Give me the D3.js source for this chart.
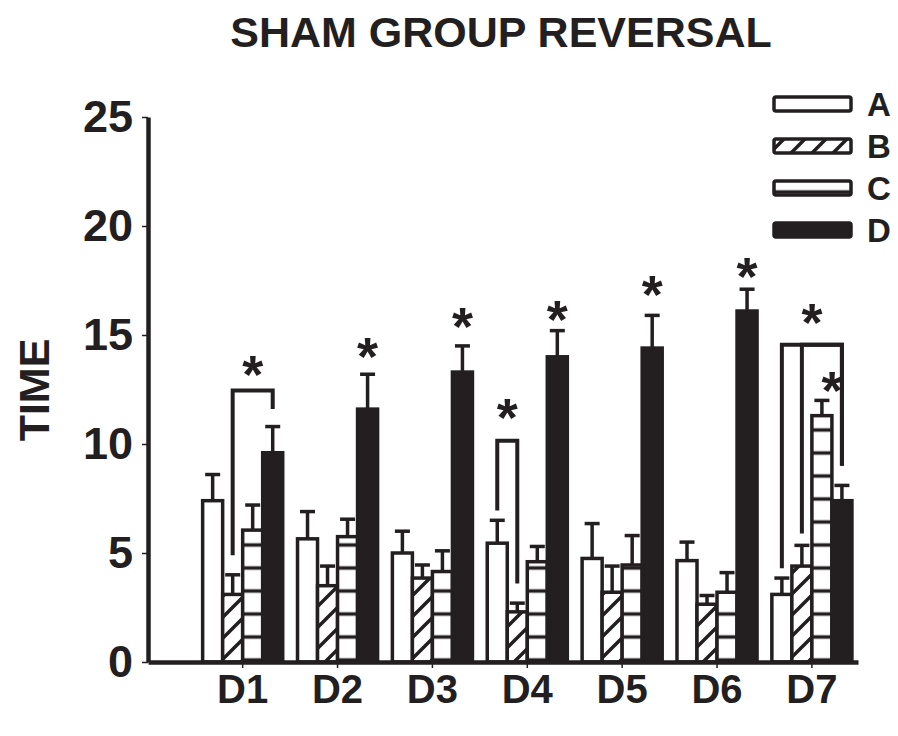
<!DOCTYPE html>
<html><head><meta charset="utf-8">
<script src="https://cdn.jsdelivr.net/npm/d3@7"></script>
<style>
body{margin:0;background:#fff}
svg text{font-family:"Liberation Sans",Arial,sans-serif;font-weight:bold;fill:#231f20}
</style>
</head><body>
<svg id="chart" width="898" height="736"></svg>
<script>
// ---- data ----
const days = ["D1","D2","D3","D4","D5","D6","D7"];
const seriesNames = ["A","B","C","D"];
const valuesA = [7.4, 5.65, 5.0, 5.45, 4.75, 4.65, 3.1];
const semA    = [1.2, 1.25, 1.0, 1.05, 1.6, 0.85, 0.75];
const valuesB = [3.1, 3.5, 3.85, 2.3, 3.2, 2.65, 4.4];
const semB    = [0.9, 0.9, 0.6, 0.4, 1.2, 0.4, 0.95];
const valuesC = [6.05, 5.75, 4.15, 4.6, 4.45, 3.2, 11.3];
const semC    = [1.15, 0.8, 0.95, 0.7, 1.35, 0.9, 0.7];
const valuesD = [9.6, 11.6, 13.3, 14.0, 14.4, 16.1, 7.4];
const semD    = [1.2, 1.6, 1.2, 1.2, 1.5, 1.0, 0.7];
const yTicks = [0, 5, 10, 15, 20, 25];
const titleText = "SHAM GROUP REVERSAL";
const yLabelText = "TIME";
// significance brackets: legs [series, bottom value], top value
const brackets = [
  {day:"D1", legs:[["B",4.9],["D",11.6]], top:12.45},
  {day:"D4", legs:[["A",6.95],["B",3.6]], top:10.15},
  {day:"D7", legs:[["A",4.3],["D",9.0]], top:14.55},
  {day:"D7", legs:[["B",5.9],["D",9.0]], top:14.55}
];
// stars: positioned at mean of listed series centres, at value
const stars = [
  {day:"D1", at:["B","D"], value:13.7},
  {day:"D2", at:["D"], value:14.55},
  {day:"D3", at:["D"], value:15.9},
  {day:"D4", at:["A","B"], value:11.75},
  {day:"D4", at:["D"], value:16.25},
  {day:"D5", at:["D"], value:17.4},
  {day:"D6", at:["D"], value:18.2},
  {day:"D7", at:["A","D"], value:16.1},
  {day:"D7", at:["C","D"], value:13.0}
];

const ink = "#231f20";
const valuesBySeries = {A:valuesA, B:valuesB, C:valuesC, D:valuesD};
const semBySeries = {A:semA, B:semB, C:semC, D:semD};

const svg = d3.select("#chart");

// ---- scales ----
const x = d3.scaleBand().domain(days).range([148, 858])
  .paddingInner(0.156).paddingOuter(0.32).align(0.9);
const xs = d3.scaleBand().domain(seriesNames).range([0, x.bandwidth()]);
const y = d3.scaleLinear().domain([0, 25]).range([662, 117]);
const legendY = d3.scalePoint().domain(seriesNames).range([104, 230]);

// ---- patterns ----
const defs = svg.append("defs");
const hatch = defs.append("pattern").attr("id","hatchB")
  .attr("patternUnits","userSpaceOnUse").attr("width",21).attr("height",21);
hatch.append("rect").attr("width",21).attr("height",21).attr("fill","#fff");
hatch.append("path").attr("d","M0,21 L21,0 M-6,6 L6,-6 M15,27 L27,15")
  .attr("stroke",ink).attr("stroke-width",3.5);

function horizPattern(id, offset){
  const p = defs.append("pattern").attr("id",id)
    .attr("patternUnits","userSpaceOnUse").attr("width",20).attr("height",23)
    .attr("y", offset);
  p.append("rect").attr("width",20).attr("height",23).attr("fill","#fff");
  p.append("line").attr("x1",0).attr("x2",20).attr("y1",11.5).attr("y2",11.5)
    .attr("stroke",ink).attr("stroke-width",3.5);
}
horizPattern("horizC", y(0) - 25 - 11.5);
horizPattern("horizCleg", legendY("C") - 11.5);

const fillBar = {A:"#fff", B:"url(#hatchB)", C:"url(#horizC)", D:ink};
const fillLeg = {A:"#fff", B:"url(#hatchB)", C:"url(#horizCleg)", D:ink};

// ---- bars ----
const barData = [];
days.forEach((d,i)=>seriesNames.forEach(s=>{
  barData.push({day:d, s, v:valuesBySeries[s][i], e:semBySeries[s][i]});
}));
const cx = (d,s)=> x(d) + xs(s) + xs.bandwidth()/2;

svg.append("g").selectAll("rect").data(barData).join("rect")
  .attr("x", d=>x(d.day)+xs(d.s))
  .attr("y", d=>y(d.v))
  .attr("width", xs.bandwidth())
  .attr("height", d=>y(0)-y(d.v))
  .attr("fill", d=>fillBar[d.s])
  .attr("stroke", ink).attr("stroke-width",3.5);

// error bars
const eg = svg.append("g").attr("stroke",ink).attr("stroke-width",3.5);
eg.selectAll("line.stem").data(barData).join("line").attr("class","stem")
  .attr("x1", d=>cx(d.day,d.s)).attr("x2", d=>cx(d.day,d.s))
  .attr("y1", d=>y(d.v)).attr("y2", d=>y(d.v+d.e));
eg.selectAll("line.cap").data(barData).join("line").attr("class","cap")
  .attr("x1", d=>cx(d.day,d.s)-7.5).attr("x2", d=>cx(d.day,d.s)+7.5)
  .attr("y1", d=>y(d.v+d.e)).attr("y2", d=>y(d.v+d.e));

// brackets
svg.append("g").selectAll("path").data(brackets).join("path")
  .attr("d", b=>{
    const [l, r] = b.legs;
    return d3.line()([
      [cx(b.day,l[0]), y(l[1])],
      [cx(b.day,l[0]), y(b.top)],
      [cx(b.day,r[0]), y(b.top)],
      [cx(b.day,r[0]), y(r[1])]
    ]);
  })
  .attr("fill","none").attr("stroke",ink).attr("stroke-width",4)
  .attr("stroke-linejoin","miter");

// stars
svg.append("g").selectAll("text").data(stars).join("text")
  .attr("x", s=>d3.mean(s.at, k=>cx(s.day,k)))
  .attr("y", s=>y(s.value)+30)
  .attr("text-anchor","middle")
  .style("font-size","54px")
  .text("*");

// ---- axes ----
const yAxis = svg.append("g").attr("transform","translate(148,0)")
  .call(d3.axisLeft(y).tickValues(yTicks).tickSize(6).tickSizeOuter(0).tickPadding(9));
const xAxis = svg.append("g").attr("transform",`translate(0,${y(0)})`)
  .call(d3.axisBottom(x).tickSize(6).tickSizeOuter(0).tickPadding(7));
[yAxis, xAxis].forEach(g=>{
  g.attr("font-family",null).attr("font-size",null);
  g.select(".domain").attr("stroke",ink).attr("stroke-width",4.5);
  g.selectAll(".tick line").attr("stroke",ink).attr("stroke-width",1.5);
  g.selectAll(".tick text").attr("fill",ink);
});
yAxis.selectAll(".tick text").style("font-size","45px");
xAxis.selectAll(".tick text").style("font-size","40px");

// ---- titles ----
svg.append("text").attr("x",501).attr("y",47).attr("text-anchor","middle")
  .style("font-size","43px").text(titleText);
svg.append("text").attr("transform","translate(49,390) rotate(-90)")
  .attr("text-anchor","middle").style("font-size","43px").text(yLabelText);

// ---- legend ----
const lg = svg.append("g").selectAll("g").data(seriesNames).join("g")
  .attr("transform", s=>`translate(0,${legendY(s)})`);
lg.append("rect").attr("x",774).attr("y",-7).attr("width",77).attr("height",14)
  .attr("rx",2)
  .attr("fill", s=>fillLeg[s]).attr("stroke",ink).attr("stroke-width",3.5);
lg.append("text").attr("x",867).attr("dy","0.36em")
  .style("font-size","33px").text(s=>s);
</script>
</body></html>
